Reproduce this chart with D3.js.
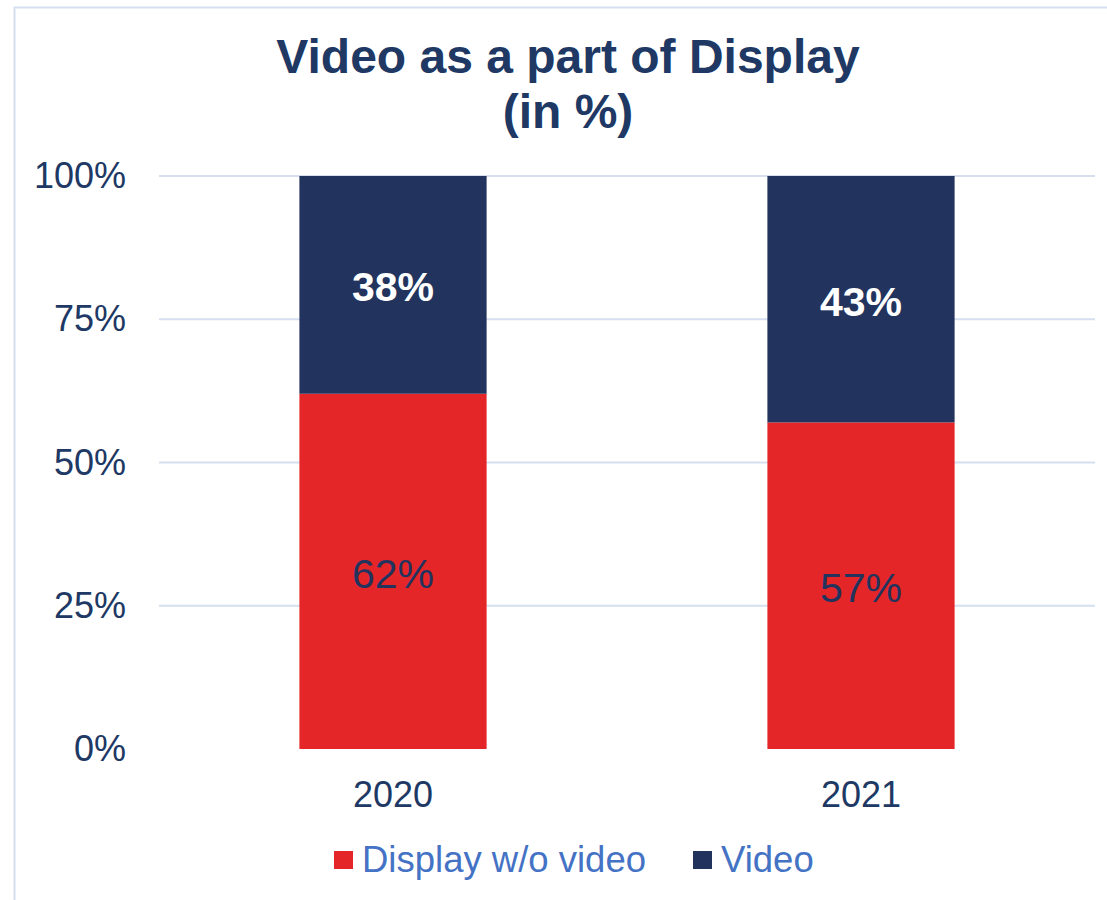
<!DOCTYPE html>
<meta charset="utf-8">
<head>
    <title>Video as a part of Display</title>
    <script src="https://cdn.jsdelivr.net/npm/d3@7"></script>
</head>

<style>
    body { margin: 0; background: #fff; }
    text { font-family: "Liberation Sans", Arial, sans-serif; }
</style>

<svg></svg>

<script>
    var vWidth = 1107;
    var vHeight = 900;

    // data
    var years = ["2020", "2021"];
    var displayNoVideo = [62, 57];
    var video = [38, 43];
    var seriesNames = ["Display w/o video", "Video"];
    var yTicks = [0, 25, 50, 75, 100];

    var colors = ["#e52629", "#22335e"];
    var navy = "#22335e";

    var svg = d3.select('svg').attr('width', vWidth).attr('height', vHeight);

    // outer frame
    svg.append('rect')
        .attr('x', 14.5).attr('y', 7.5)
        .attr('width', 1110).attr('height', 1000)
        .attr('fill', 'none').attr('stroke', '#d6dff0').attr('stroke-width', 2);

    // title
    svg.append('text').attr('x', 568).attr('y', 73)
        .attr('text-anchor', 'middle').attr('font-size', 48).attr('font-weight', 'bold')
        .attr('fill', '#203864').text('Video as a part of Display');
    svg.append('text').attr('x', 568).attr('y', 128)
        .attr('text-anchor', 'middle').attr('font-size', 48).attr('font-weight', 'bold')
        .attr('fill', '#203864').text('(in %)');

    // scales
    var x = d3.scaleBand().domain(years).range([159, 1095])
        .paddingInner(0.6).paddingOuter(0.3);
    var y = d3.scaleLinear().domain([0, 100]).range([749, 176]);

    // gridlines
    svg.append('g').selectAll('line').data(yTicks.slice(1)).enter().append('line')
        .attr('x1', 159).attr('x2', 1095)
        .attr('y1', function (d) { return y(d); }).attr('y2', function (d) { return y(d); })
        .attr('stroke', '#d6dff0').attr('stroke-width', 2);

    // y axis
    var yAxis = svg.append('g').attr('transform', 'translate(159,0)')
        .call(d3.axisLeft(y).tickValues(yTicks).tickSize(0).tickPadding(33)
            .tickFormat(function (d) { return d + '%'; }));
    yAxis.select('.domain').remove();
    yAxis.selectAll('text').attr('font-size', 36).attr('fill', '#203864')
        .style('font-family', '"Liberation Sans", Arial, sans-serif');

    // x axis
    var xAxis = svg.append('g').attr('transform', 'translate(0,749)')
        .call(d3.axisBottom(x).tickSize(0).tickPadding(32));
    xAxis.select('.domain').remove();
    xAxis.selectAll('text').attr('font-size', 36).attr('fill', '#203864')
        .style('font-family', '"Liberation Sans", Arial, sans-serif');

    // stacked bars
    var rows = years.map(function (yr, i) {
        return { year: yr, a: displayNoVideo[i], b: video[i] };
    });
    var stack = d3.stack().keys(['a', 'b'])(rows);

    var layers = svg.append('g').selectAll('g').data(stack).enter().append('g')
        .attr('fill', function (d, i) { return colors[i]; });

    layers.selectAll('rect').data(function (d) { return d; }).enter().append('rect')
        .attr('x', function (d) { return x(d.data.year); })
        .attr('width', x.bandwidth())
        .attr('y', function (d) { return y(d[1]); })
        .attr('height', function (d) { return y(d[0]) - y(d[1]); });

    // labels
    layers.selectAll('text').data(function (d, i) {
        return d.map(function (p) { return { p: p, layer: i }; });
    }).enter().append('text')
        .attr('x', function (d) { return x(d.p.data.year) + x.bandwidth() / 2; })
        .attr('y', function (d) { return (y(d.p[0]) + y(d.p[1])) / 2 + 16.5; })
        .attr('text-anchor', 'middle').attr('font-size', 41)
        .attr('font-weight', function (d) { return d.layer === 1 ? 'bold' : 'normal'; })
        .attr('fill', function (d) { return d.layer === 1 ? '#fff' : navy; })
        .text(function (d) { return (d.p[1] - d.p[0]) + '%'; });

    // legend
    var legendX = [334, 693];
    var legend = svg.append('g').selectAll('g').data(seriesNames).enter().append('g')
        .attr('transform', function (d, i) { return 'translate(' + legendX[i] + ',851)'; });
    legend.append('rect').attr('x', 0).attr('y', 0).attr('width', 19).attr('height', 18)
        .attr('fill', function (d, i) { return colors[i]; });
    legend.append('text').attr('x', 28).attr('y', 21).attr('font-size', 36.5)
        .attr('fill', '#4472c4').text(function (d) { return d; });
</script>
